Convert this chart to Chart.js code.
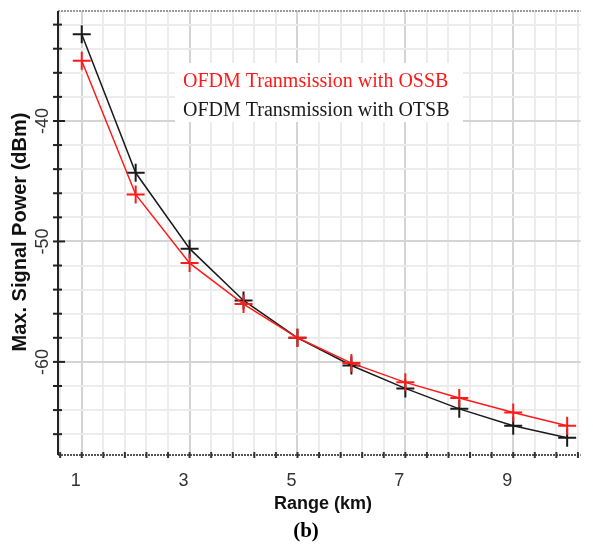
<!DOCTYPE html>
<html>
<head>
<meta charset="utf-8">
<script src="https://cdn.jsdelivr.net/npm/chart.js@4"></script>
<style>
  html, body { margin: 0; padding: 0; background: #fff; }
  #wrap { width: 593px; height: 544px; position: relative; }
</style>
</head>
<body>
<div id="wrap"><canvas id="chart"></canvas></div>
<script>
// Values
const rangeKm = [1, 2, 3, 4, 5, 6, 7, 8, 9, 10];
const powerOSSB = [-35.0, -46.1, -51.8, -55.2, -58.0, -60.1, -61.7, -63.0, -64.2, -65.3];
const powerOTSB = [-32.8, -44.3, -50.6, -54.9, -58.0, -60.3, -62.2, -63.9, -65.3, -66.3];
const seriesNames = ['OFDM Tranmsission with OSSB', 'OFDM Transmission with OTSB'];
const xTickLabels = [1, 3, 5, 7, 9];
const yTickLabels = [-40, -50, -60];

const RED = '#ff1a1a';
const BLACK = '#1a1a1a';
const SANS = '"Liberation Sans", Arial, sans-serif';
const SERIF = '"Liberation Serif", "Times New Roman", serif';

function isMajorX(v) {
  const r = Math.round(v);
  return Math.abs(v - r) < 1e-6 && xTickLabels.includes(r);
}

function line(ctx, x1, y1, x2, y2) {
  ctx.beginPath();
  ctx.moveTo(x1, y1);
  ctx.lineTo(x2, y2);
  ctx.stroke();
}

// Frame, left axis, legend box and the text outside the plot area
const framePlugin = {
  id: 'frame',
  beforeDatasetsDraw(chart) {
    const { ctx, chartArea: a, scales: { x, y } } = chart;
    ctx.save();

    ctx.lineWidth = 2;
    ctx.setLineDash([2, 1]);
    ctx.strokeStyle = '#9a9a9a';
    line(ctx, a.left, a.top, a.right, a.top);
    ctx.strokeStyle = '#555';
    line(ctx, a.left, a.bottom, a.right, a.bottom);
    ctx.setLineDash([]);

    ctx.fillStyle = '#333';
    x.ticks.forEach(t => {
      const px = x.getPixelForValue(t.value);
      ctx.fillRect(px - 1, a.bottom - 3, 2, 6);
    });

    ctx.strokeStyle = '#222';
    line(ctx, a.left, a.top, a.left, a.bottom);
    y.ticks.forEach(t => {
      const py = y.getPixelForValue(t.value);
      const major = yTickLabels.includes(t.value);
      line(ctx, a.left - 5, py, a.left + (major ? 7 : 4), py);
    });

    // legend
    ctx.fillStyle = '#fff';
    ctx.fillRect(175, 63, 288, 59);
    ctx.font = '20px ' + SERIF;
    ctx.textAlign = 'left';
    ctx.textBaseline = 'alphabetic';
    ctx.fillStyle = RED;
    ctx.fillText(seriesNames[0], 183, 87);
    ctx.fillStyle = BLACK;
    ctx.fillText(seriesNames[1], 183, 116);
    ctx.restore();
  },
  afterDraw(chart) {
    const { ctx, scales: { y } } = chart;
    ctx.save();
    ctx.fillStyle = '#333';
    ctx.font = '18px ' + SANS;
    ctx.textAlign = 'center';
    ctx.textBaseline = 'middle';
    yTickLabels.forEach(v => {
      const py = y.getPixelForValue(v);
      ctx.save();
      ctx.translate(43, py);
      ctx.rotate(-Math.PI / 2);
      ctx.fillText(String(v), 0, 0);
      ctx.restore();
    });

    ctx.fillStyle = '#111';
    ctx.font = 'bold 20px ' + SANS;
    ctx.save();
    ctx.translate(20, 232);
    ctx.rotate(-Math.PI / 2);
    ctx.fillText('Max. Signal Power (dBm)', 0, 0);
    ctx.restore();

    ctx.font = 'bold 18px ' + SANS;
    ctx.textBaseline = 'alphabetic';
    ctx.fillText('Range (km)', 323, 509);

    ctx.fillStyle = '#000';
    ctx.font = 'bold 21px ' + SERIF;
    ctx.fillText('(b)', 306, 537);
    ctx.restore();
  }
};

const gridTicksX = [];
for (let i = 0; i <= 24; i++) gridTicksX.push(Math.round((0.6 + i * 0.4) * 10) / 10);
const gridTicksY = [];
for (let v = -32; v >= -66; v -= 2) gridTicksY.push(v);

new Chart(document.getElementById('chart'), {
  type: 'line',
  data: {
    datasets: [
      {
        label: seriesNames[0],
        data: rangeKm.map((r, i) => ({ x: r, y: powerOSSB[i] })),
        borderColor: RED,
        backgroundColor: RED,
        borderWidth: 1.5,
        pointStyle: 'cross',
        pointRadius: 9,
        pointBorderWidth: 2,
        tension: 0
      },
      {
        label: seriesNames[1],
        data: rangeKm.map((r, i) => ({ x: r, y: powerOTSB[i] })),
        borderColor: BLACK,
        backgroundColor: BLACK,
        borderWidth: 1.5,
        pointStyle: 'cross',
        pointRadius: 9,
        pointBorderWidth: 2,
        tension: 0
      }
    ]
  },
  options: {
    responsive: true,
    maintainAspectRatio: false,
    animation: false,
    layout: { padding: { top: 9, right: 8, left: 0, bottom: 0 } },
    scales: {
      x: {
        type: 'linear',
        min: 0.56,
        max: 10.25,
        afterBuildTicks: (scale) => { scale.ticks = gridTicksX.map(v => ({ value: v })); },
        afterFit: (scale) => { scale.height = 89; },
        border: { display: false },
        grid: {
          drawTicks: false,
          lineWidth: 2,
          color: (c) => isMajorX(c.tick.value) ? '#d4d4d4' : '#ececec'
        },
        ticks: {
          autoSkip: false,
          maxRotation: 0,
          padding: 15,
          labelOffset: -6,
          color: '#333',
          font: { family: SANS, size: 18 },
          callback: (value) => isMajorX(value) ? String(Math.round(value)) : ''
        }
      },
      y: {
        min: -67.73,
        max: -30.87,
        afterBuildTicks: (scale) => { scale.ticks = gridTicksY.map(v => ({ value: v })); },
        afterFit: (scale) => { scale.width = 58; },
        border: { display: false },
        grid: {
          drawTicks: false,
          lineWidth: 2,
          color: (c) => yTickLabels.includes(c.tick.value) ? '#d4d4d4' : '#ececec'
        },
        ticks: { display: false }
      }
    },
    plugins: {
      legend: { display: false },
      tooltip: { enabled: false }
    }
  },
  plugins: [framePlugin]
});
</script>
</body>
</html>
